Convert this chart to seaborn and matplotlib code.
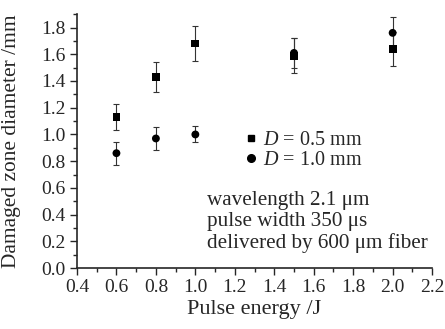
import numpy as np
import pandas as pd
import seaborn as sns
import matplotlib.pyplot as plt
from matplotlib.ticker import MultipleLocator
from matplotlib.lines import Line2D

# data
energy_05 = [0.6, 0.8, 1.0, 1.5, 2.0]
diam_05 = [1.13, 1.43, 1.68, 1.59, 1.64]
err_05 = [0.10, 0.11, 0.13, 0.13, 0.13]

energy_10 = [0.6, 0.8, 1.0, 1.5, 2.0]
diam_10 = [0.86, 0.97, 1.00, 1.61, 1.76]
err_10 = [0.085, 0.083, 0.06, 0.11, 0.12]

labels = ['$D$ = 0.5 mm', '$D$ = 1.0 mm']
xticks = [0.4, 0.6, 0.8, 1.0, 1.2, 1.4, 1.6, 1.8, 2.0, 2.2]
yticks = [0.0, 0.2, 0.4, 0.6, 0.8, 1.0, 1.2, 1.4, 1.6, 1.8]

df = pd.DataFrame({
    'energy': energy_05 + energy_10,
    'diam': diam_05 + diam_10,
    'series': [labels[0]] * 5 + [labels[1]] * 5,
})

sns.set_style('ticks')
plt.rcParams['font.family'] = ['Liberation Serif', 'DejaVu Serif']
plt.rcParams['mathtext.fontset'] = 'custom'
plt.rcParams['mathtext.it'] = 'Liberation Serif:italic'
plt.rcParams['mathtext.rm'] = 'Liberation Serif'

fig = plt.figure(figsize=(4.45, 3.29), dpi=100)
ax = fig.add_axes([0.173, 0.185, 0.798, 0.772])

ax.errorbar(energy_05, diam_05, yerr=err_05, fmt='none', ecolor='#333333',
            elinewidth=0.8, capsize=2.5, capthick=0.8)
ax.errorbar(energy_10, diam_10, yerr=err_10, fmt='none', ecolor='#333333',
            elinewidth=0.8, capsize=2.5, capthick=0.8)
sns.scatterplot(data=df, x='energy', y='diam', style='series',
                markers={labels[0]: 's', labels[1]: 'o'}, color='black',
                s=32, edgecolor='black', linewidth=0, legend=False, ax=ax, zorder=3)

ax.set_xlim(0.4, 2.2)
ax.set_ylim(0, 1.9)
ax.set_xticks(xticks)
ax.set_xticklabels([f'{v:.1f}' for v in xticks])
ax.set_yticks(yticks)
ax.set_yticklabels([f'{v:.1f}' for v in yticks])
ax.xaxis.set_minor_locator(MultipleLocator(0.1))
ax.yaxis.set_minor_locator(MultipleLocator(0.1))
ax.tick_params(which='major', direction='out', length=5, width=1, labelsize=14, pad=3)
ax.tick_params(which='minor', direction='out', length=3, width=1)
sns.despine(ax=ax)
for sp in ['left', 'bottom']:
    ax.spines[sp].set_linewidth(1.2)

ax.set_xlabel('Pulse energy /J', fontsize=16, labelpad=3)
ax.set_ylabel('Damaged zone diameter /mm', fontsize=15.4)
ax.yaxis.set_label_coords(-0.157, 0.5)

handles = [Line2D([], [], marker='s', color='black', ls='none', markersize=5),
           Line2D([], [], marker='o', color='black', ls='none', markersize=5.5)]
ax.legend(handles, labels, loc='upper left', bbox_to_anchor=(0.445, 0.578),
          frameon=False, fontsize=14.5, handlelength=0.6, handletextpad=0.3,
          labelspacing=0.0, borderpad=0)

ax.text(0.366, 0.305, 'wavelength 2.1 μm\npulse width 350 μs\ndelivered by 600 μm fiber',
        transform=ax.transAxes, fontsize=15.2, va='top', ha='left', linespacing=1.15)

fig.savefig('out.png', dpi=100)
